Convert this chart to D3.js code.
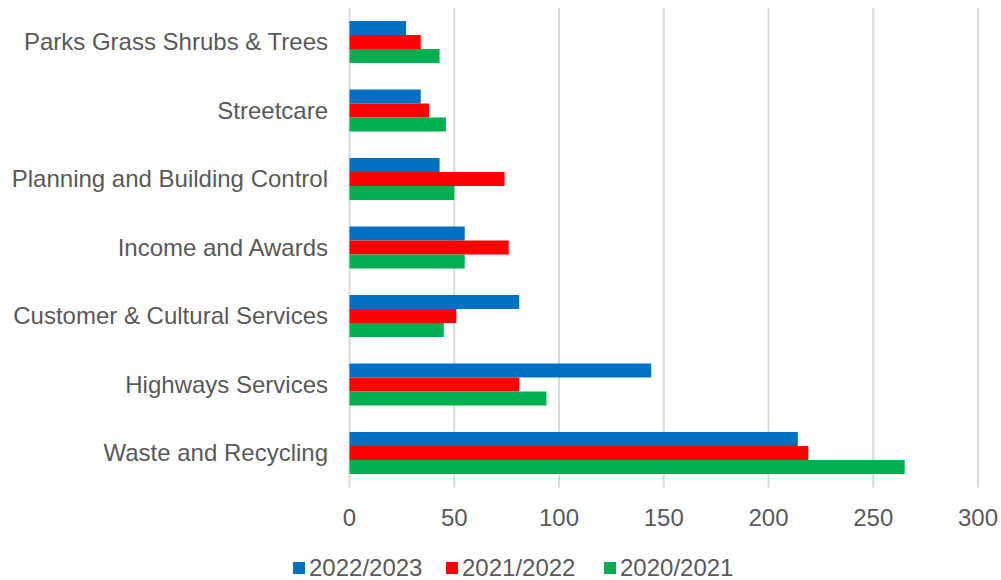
<!DOCTYPE html>
<html><head><meta charset="utf-8">
<script src="https://cdn.jsdelivr.net/npm/d3@7"></script>
<style>body{margin:0;background:#fff}svg{display:block}text{font-family:"Liberation Sans",Arial,sans-serif}</style>
</head><body>
<svg id="c" width="1001" height="580"></svg>
<script>
const categories = ["Parks Grass Shrubs & Trees","Streetcare","Planning and Building Control","Income and Awards","Customer & Cultural Services","Highways Services","Waste and Recycling"];
const seriesNames = ["2022/2023","2021/2022","2020/2021"];
const s2022_2023 = [27,34,43,55,81,144,214];
const s2021_2022 = [34,38,74,76,51,81,219];
const s2020_2021 = [43,46,50,55,45,94,265];
const colors = ["#0070C0","#FF0000","#00B050"];
const xTicks = [0,50,100,150,200,250,300];

const series = [s2022_2023, s2021_2022, s2020_2021];
const svg = d3.select("#c");
const x = d3.scaleLinear().domain([0,300]).range([349.5,978]);
const y = d3.scaleBand().domain(categories).range([7.75,487.25]).paddingInner(0.387).paddingOuter(0.1935);
const yi = d3.scaleBand().domain(seriesNames).range([0,y.bandwidth()]);

// gridlines
svg.append("g").selectAll("line").data(xTicks).join("line")
  .attr("x1",d=>x(d)).attr("x2",d=>x(d)).attr("y1",7.75).attr("y2",487.5)
  .attr("stroke","#d9d9d9").attr("stroke-width",2);

// bars
categories.forEach((c,i)=>{
  const g = svg.append("g").attr("transform",`translate(0,${y(c)})`);
  g.selectAll("rect").data(seriesNames).join("rect")
    .attr("x",x(0)).attr("y",s=>yi(s)).attr("height",yi.bandwidth())
    .attr("width",(s,j)=>x(series[j][i])-x(0)).attr("fill",(s,j)=>colors[j]);
});

// y labels
svg.append("g").selectAll("text").data(categories).join("text")
  .attr("x",328).attr("y",d=>y(d)+y.bandwidth()/2).attr("dy","0.35em")
  .attr("text-anchor","end").attr("font-size",24).attr("fill","#595959").text(d=>d);

// x tick labels
svg.append("g").selectAll("text").data(xTicks).join("text")
  .attr("x",d=>x(d)).attr("y",518).attr("dy","0.35em")
  .attr("text-anchor","middle").attr("font-size",24).attr("fill","#595959").text(d=>d);

// legend
const lx = [293,446,604];
const lg = svg.append("g").selectAll("g").data(seriesNames).join("g")
  .attr("transform",(d,i)=>`translate(${lx[i]},568)`);
lg.append("rect").attr("x",0).attr("y",-6).attr("width",12).attr("height",12).attr("fill",(d,i)=>colors[i]);
lg.append("text").attr("x",16).attr("y",0).attr("dy","0.35em").attr("font-size",24).attr("fill","#595959").text(d=>d);
</script>
</body></html>
